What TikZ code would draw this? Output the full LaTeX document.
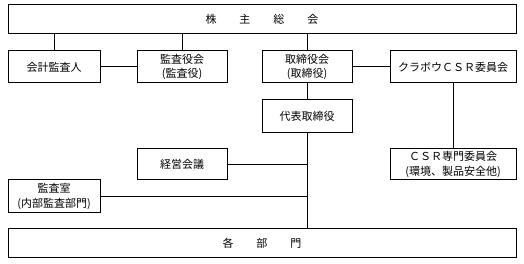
\documentclass[tikz,border=0pt]{standalone}
\usepackage{fontspec}
\setmainfont{Noto Sans CJK JP}
\begin{document}
\begin{tikzpicture}[x=1pt,y=-1pt,
  box/.style={draw,line width=1pt,rectangle,inner sep=0pt,align=center,
    font=\fontsize{11}{14.5}\selectfont},
  conn/.style={line width=1pt}]
\useasboundingbox (0,0) rectangle (524,264);
\node[box,minimum width=508pt,minimum height=29pt] (top) at (262,19.5) {株\hspace{23pt}主\hspace{23pt}総\hspace{23pt}会};
\node[box,minimum width=92pt,minimum height=32pt] (kaikei) at (54,67) {会計監査人};
\node[box,minimum width=90pt,minimum height=32pt] (kansayaku) at (182,67) {監査役会\\(監査役)};
\node[box,minimum width=90pt,minimum height=32pt] (torishimari) at (307,67) {取締役会\\(取締役)};
\node[box,minimum width=126pt,minimum height=32pt] (csr) at (453,67) {クラボウＣＳＲ委員会};
\node[box,minimum width=90pt,minimum height=33pt] (daihyo) at (307,116.5) {代表取締役};
\node[box,minimum width=90pt,minimum height=31pt] (keiei) at (182,164.5) {経営会議};
\node[box,minimum width=126pt,minimum height=31pt] (csrsenmon) at (453,164.5) {ＣＳＲ専門委員会\\(環境、製品安全他)};
\node[box,minimum width=92pt,minimum height=33pt] (kansashitsu) at (54,196.5) {監査室\\(内部監査部門)};
\node[box,minimum width=508pt,minimum height=28pt] (kakubumon) at (262,243) {各\hspace{23pt}部\hspace{23pt}門};
\draw[conn] (kaikei.north) -- (kaikei.north |- top.south);
\draw[conn] (kansayaku.north) -- (kansayaku.north |- top.south);
\draw[conn] (torishimari.north) -- (torishimari.north |- top.south);
\draw[conn] (kaikei.east) -- (kansayaku.west);
\draw[conn] (torishimari.east) -- (csr.west);
\draw[conn] (torishimari.south) -- (daihyo.north);
\draw[conn] (daihyo.south) -- (daihyo.south |- kakubumon.north);
\draw[conn] (keiei.east) -- (keiei.east -| daihyo.south);
\draw[conn] (kansashitsu.east) -- (kansashitsu.east -| daihyo.south);
\draw[conn] (csr.south) -- (csrsenmon.north);
\end{tikzpicture}
\end{document}
